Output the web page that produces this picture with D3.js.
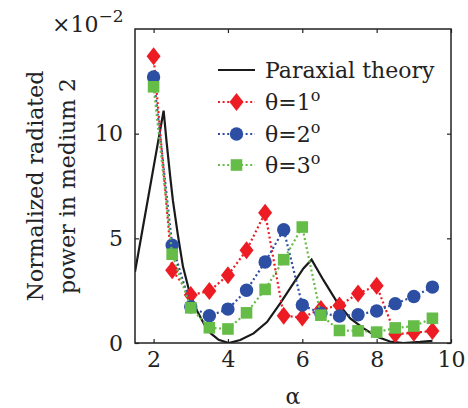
<!DOCTYPE html>
<html>
<head>
<meta charset="utf-8">
<script src="https://cdn.jsdelivr.net/npm/d3@7"></script>
<style>
  body { margin: 0; background: #fff; }
  text { font-family: "DejaVu Serif", serif; fill: #222; }
</style>
</head>
<body>
<div id="chart"></div>
<script>
// sampled alpha values for the three simulated curves
const alpha = [2, 2.5, 3, 3.5, 4, 4.5, 5, 5.5, 6, 6.5, 7, 7.5, 8, 8.5, 9, 9.5];
// normalized radiated power (x1e-2)
const theta1 = [13.7, 3.48, 2.29, 2.48, 3.24, 4.43, 6.22, 1.30, 1.22, 1.62, 1.79, 2.36, 2.74, 0.42, 0.49, 0.57];
const theta2 = [12.71, 4.67, 1.73, 1.30, 1.62, 2.52, 3.87, 5.41, 1.81, 1.42, 1.29, 1.35, 1.53, 1.88, 2.22, 2.67];
const theta3 = [12.24, 4.24, 1.68, 0.73, 0.67, 1.44, 2.56, 3.98, 5.54, 1.33, 0.6, 0.58, 0.52, 0.72, 0.81, 1.18];
// paraxial theory curve
const paraxAlpha = [1.5, 2.27, 2.35, 2.45, 2.52, 2.65, 2.79, 2.97, 3.15, 3.39, 3.54, 3.75, 4.02, 4.33, 4.69, 5.05, 5.41, 5.76, 6.03, 6.25, 6.57, 6.93, 7.29, 7.65, 8.01, 8.36, 8.72, 9.17, 9.5];
const paraxPower = [3.4, 11.1, 9.6, 7.9, 6.8, 5.2, 3.65, 2.4, 1.6, 0.8, 0.46, 0.15, 0, 0.14, 0.46, 1.0, 1.9, 2.85, 3.56, 3.98, 3.0, 1.97, 1.17, 0.7, 0.3, 0.07, 0, 0.05, 0.1];

const xTicks = [2, 4, 6, 8, 10];
const yTicks = [0, 5, 10];
const legendLabels = ['Paraxial theory', 'θ=1', 'θ=2', 'θ=3'];

const colors = { red: '#ed1c24', blue: '#2d4fa3', green: '#65bc46', black: '#1a1a1a' };

const width = 468, height = 408;
const margin = { top: 29, right: 17, bottom: 65, left: 135 };
const w = width - margin.left - margin.right;
const h = height - margin.top - margin.bottom;

const svg = d3.select('#chart').append('svg')
    .attr('width', width)
    .attr('height', height);

const chart = svg.append('g')
    .attr('transform', `translate(${margin.left},${margin.top})`);

const x = d3.scaleLinear().domain([1.5, 10]).range([0, w]);
const y = d3.scaleLinear().domain([0, 15]).range([h, 0]);

// clip to plot area
svg.append('defs').append('clipPath').attr('id', 'plot-clip')
    .append('rect').attr('width', w).attr('height', h);

// axes with inward ticks
const fontSize = 22;
const xAxis = chart.append('g')
    .attr('transform', `translate(0,${h})`)
    .call(d3.axisBottom(x).tickValues(xTicks).tickSize(-4).tickSizeOuter(0).tickPadding(8));
const yAxis = chart.append('g')
    .call(d3.axisLeft(y).tickValues(yTicks).tickSize(-4).tickSizeOuter(0).tickPadding(12));
chart.append('g')
    .attr('transform', `translate(${w},0)`)
    .call(d3.axisRight(y).tickValues(yTicks).tickSize(-4).tickSizeOuter(0).tickFormat(''));
chart.append('g')
    .call(d3.axisTop(x).tickValues(xTicks).tickSize(-4).tickSizeOuter(0).tickFormat(''));

chart.selectAll('.domain').remove();
chart.selectAll('.tick line').attr('stroke', '#222').attr('stroke-width', 1.2);
chart.selectAll('.tick text')
    .style('font-family', '"DejaVu Serif", serif')
    .style('font-size', fontSize + 'px')
    .attr('fill', '#222');

// data layer
const plot = chart.append('g').attr('clip-path', 'url(#plot-clip)');

const line = d3.line().x(d => x(d[0])).y(d => y(d[1]));

plot.append('path')
    .datum(d3.zip(paraxAlpha, paraxPower))
    .attr('fill', 'none')
    .attr('stroke', colors.black)
    .attr('stroke-width', 2.2)
    .attr('d', line);

const series = [
    { vals: theta1, color: colors.red, shape: 'diamond' },
    { vals: theta2, color: colors.blue, shape: 'circle' },
    { vals: theta3, color: colors.green, shape: 'square' }
];

function drawMarker(g, shape, color) {
    if (shape === 'diamond') {
        g.append('path').attr('d', 'M0,-9L7,0L0,9L-7,0Z').attr('fill', color);
    } else if (shape === 'circle') {
        g.append('circle').attr('r', 6.7).attr('fill', color);
    } else {
        g.append('rect').attr('x', -5.8).attr('y', -5.8).attr('width', 11.6).attr('height', 11.6).attr('fill', color);
    }
}

series.forEach(s => {
    const pts = d3.zip(alpha, s.vals);
    plot.append('path')
        .datum(pts)
        .attr('fill', 'none')
        .attr('stroke', s.color)
        .attr('stroke-width', 2.2)
        .attr('stroke-dasharray', '2,2.6')
        .attr('d', line);
    plot.selectAll(null)
        .data(pts)
        .join('g')
        .attr('transform', d => `translate(${x(d[0])},${y(d[1])})`)
        .each(function() { drawMarker(d3.select(this), s.shape, s.color); });
});

// frame
chart.append('rect')
    .attr('width', w).attr('height', h)
    .attr('fill', 'none')
    .attr('stroke', '#222')
    .attr('stroke-width', 1.5);

// legend
const legend = svg.append('g').attr('class', 'legend');
const legendY = [70, 102, 134, 165];
legendLabels.forEach((lab, i) => {
    const row = legend.append('g').attr('transform', `translate(0,${legendY[i]})`);
    if (i === 0) {
        row.append('line').attr('x1', 218).attr('x2', 255)
            .attr('stroke', colors.black).attr('stroke-width', 2.2);
    } else {
        const s = series[i - 1];
        row.append('line').attr('x1', 218).attr('x2', 255)
            .attr('stroke', s.color).attr('stroke-width', 2.2).attr('stroke-dasharray', '2,2.6');
        const m = row.append('g').attr('transform', 'translate(236.5,0)');
        drawMarker(m, s.shape, s.color);
    }
    const t = row.append('text')
        .attr('x', 265).attr('y', 8)
        .style('font-size', fontSize + 'px')
        .text(lab);
    if (i > 0) {
        t.append('tspan').attr('dy', -9).style('font-size', '16px').text('o');
    }
});

// exponent label
const expo = svg.append('text').attr('x', 52).attr('y', 32).style('font-size', fontSize + 'px');
expo.append('tspan').text('×10');
expo.append('tspan').attr('dy', -10).style('font-size', '17px').text('−2');

// axis labels
svg.append('text')
    .attr('x', margin.left + w / 2).attr('y', 404)
    .attr('text-anchor', 'middle')
    .style('font-size', fontSize + 'px')
    .text('α');

const yLab = svg.append('text')
    .attr('transform', `translate(0,186) rotate(-90)`)
    .attr('text-anchor', 'middle')
    .style('font-size', fontSize + 'px');
yLab.append('tspan').attr('x', 0).attr('y', 43).text('Normalized radiated');
yLab.append('tspan').attr('x', 0).attr('y', 75).text('power in medium 2');
</script>
</body>
</html>
